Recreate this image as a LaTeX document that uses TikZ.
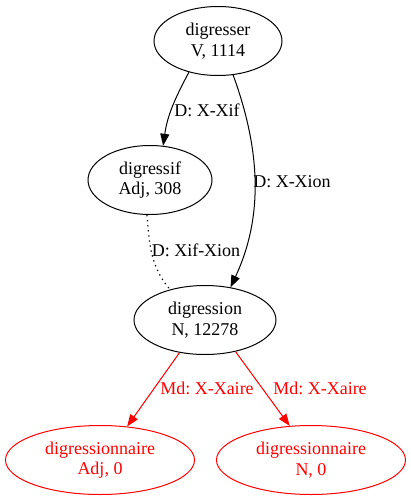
\documentclass[tikz,border=0pt]{standalone}
\usepackage{fontspec}
\setmainfont{Liberation Serif}
\usetikzlibrary{shapes.geometric,arrows.meta}
\frenchspacing
\begin{document}
\begin{tikzpicture}[x=1pt,y=1pt,
  every node/.style={font=\fontsize{18}{20.5}\selectfont\frenchspacing},
  gnode/.style={ellipse,draw,line width=1pt,inner sep=0pt,align=center,minimum height=69pt},
  redn/.style={gnode,draw=red,text=red},
  edge/.style={line width=1pt,-{Triangle[length=12pt,width=9pt]}},
  rede/.style={edge,draw=red,fill=red},
  dotedge/.style={line width=1.2pt,dash pattern=on 1.3pt off 3.8pt},
  lbl/.style={inner sep=0pt},
  redlbl/.style={lbl,text=red}
]
\useasboundingbox (0,0) rectangle (411,-501);
\node[gnode,minimum width=128pt] (dgr) at (218,-41) {digresser\\V, 1114};
\node[gnode,minimum width=124pt] (dif) at (150,-180) {digressif\\Adj, 308};
\node[gnode,minimum width=142pt] (dion) at (205,-320) {digression\\N, 12278};
\node[redn,minimum width=189pt] (adj) at (100,-460) {digressionnaire\\Adj, 0};
\node[redn,minimum width=189pt] (nn) at (311,-460) {digressionnaire\\N, 0};

\draw[edge] (dgr.227) to[out=242,in=82] (dif.69);
\draw[edge] (dgr.294) to[out=290,in=65,looseness=0.95] (dion.52);
\draw[dotedge] (dif.265) to[out=275,in=130] (dion.139);
\draw[rede] (dion.232) -- (adj.51);
\draw[rede] (dion.314) -- (nn.122);

\node[lbl] (l1) at (207,-110) {D: X-Xif};
\node[lbl] (l2) at (292,-182) {D: X-Xion};
\node[lbl] (l3) at (196,-250) {D: Xif-Xion};
\node[redlbl] (l4) at (207,-388) {Md: X-Xaire};
\node[redlbl] (l5) at (320,-388) {Md: X-Xaire};
\end{tikzpicture}
\end{document}
